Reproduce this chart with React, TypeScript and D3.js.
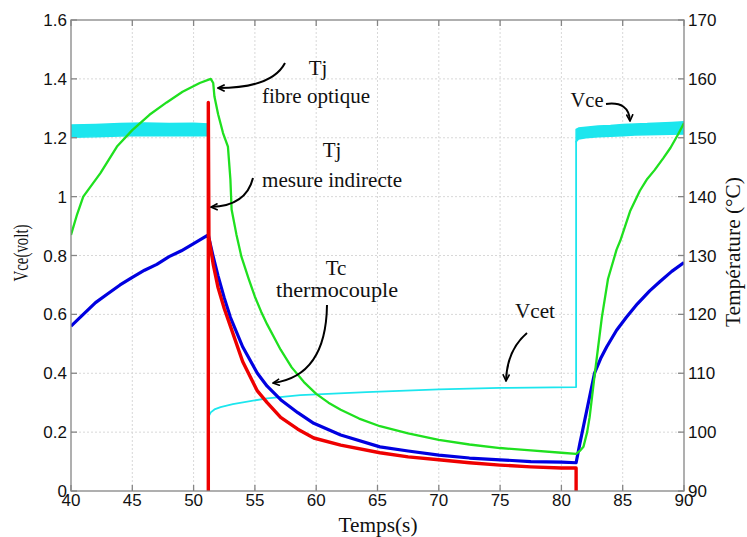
import React from "react";
import * as d3 from "d3";

// ---------- data ----------
const timeTicks = [40, 45, 50, 55, 60, 65, 70, 75, 80, 85, 90];
const vceTicks = [0, 0.2, 0.4, 0.6, 0.8, 1, 1.2, 1.4, 1.6];
const tempTicks = [90, 100, 110, 120, 130, 140, 150, 160, 170];

// Tj fibre optique (°C)
const greenT = [40, 40.5, 41, 42.4, 43.75, 45, 46.4, 47.8, 49.1, 50.5, 51.4, 51.6, 51.7, 52, 52.4, 52.8, 53, 53.1, 53.5, 53.9, 54.5, 55, 55.5, 56, 57.1, 58, 59, 60, 61, 62, 63.5, 65.2, 67.5, 70, 72.5, 75, 77.5, 80, 81.2, 81.5, 81.8, 82.1, 82.3, 82.5, 82.7, 83, 83.3, 83.8, 84.5, 84.8, 85.6, 86.4, 87, 87.6, 88.3, 88.9, 89.5, 90];
const greenV = [133.5, 137, 140, 144, 148.5, 151.3, 153.9, 156, 157.8, 159.3, 160, 159.3, 157, 154, 150.8, 148.5, 143, 137.8, 133.5, 129.8, 126, 123, 120.5, 118.3, 114, 111, 108.5, 106.5, 105, 103.8, 102.3, 101, 99.8, 98.7, 97.9, 97.3, 96.9, 96.5, 96.3, 96.8, 97.5, 100, 102.5, 106, 109.5, 114.5, 119.5, 126, 131, 132.5, 137.5, 141, 143, 144.5, 146.5, 148.3, 150.5, 152.5];

// Tc thermocouple (°C)
const blueT = [40, 41, 42, 43, 44, 45, 46, 47, 48, 49, 50, 51.2, 51.3, 51.6, 52, 52.5, 53, 54, 55.2, 56, 57.1, 58.5, 59.8, 62, 65.2, 67.5, 70, 72.5, 75, 77.5, 80, 81.2, 81.5, 81.8, 82.3, 82.7, 83.2, 83.7, 84.5, 85.3, 86.2, 87.2, 88, 89, 90];
const blueV = [118, 120, 122, 123.5, 125, 126.3, 127.5, 128.5, 129.8, 130.8, 132, 133.5, 132.5, 129.8, 126.5, 122.8, 119.5, 114.5, 110, 107.8, 105.5, 103.3, 101.5, 99.5, 97.5, 96.8, 96.1, 95.6, 95.3, 95, 94.9, 94.8, 98, 101, 106, 110, 112.5, 114.5, 117.3, 119.5, 121.8, 124, 125.5, 127.3, 128.8];

// Tj mesure indirecte (°C)
const redT = [51.2, 51.2, 51.25, 51.6, 52, 52.5, 53, 54, 55.2, 56, 57.1, 58.5, 59.8, 62, 65.2, 67.5, 70, 72.5, 75, 77.5, 80, 81.2, 81.2];
const redV = [90, 156, 133, 128.5, 124.5, 121, 118, 112, 107, 105, 102.5, 100.5, 99, 97.8, 96.5, 95.8, 95.3, 94.8, 94.4, 94.1, 93.9, 93.9, 90];

// Vcet (volt), low state
const vcetT = [51.2, 51.2, 51.25, 51.4, 51.7, 52.2, 53.2, 56, 58.7, 64.1, 70, 75, 81.2, 81.2];
const vcetV = [1.21, 0.24, 0.255, 0.267, 0.277, 0.285, 0.295, 0.315, 0.326, 0.336, 0.345, 0.35, 0.353, 1.19];

// Vce (volt), on state (noisy band)
const vceOnT1 = [40, 42, 44, 46, 48, 50, 51.2];
const vceOnTop1 = [1.243, 1.245, 1.248, 1.25, 1.248, 1.249, 1.247];
const vceOnBot1 = [1.202, 1.203, 1.206, 1.208, 1.207, 1.207, 1.207];
const vceOnT2 = [81.2, 81.4, 82, 83, 84, 85, 86, 87, 88, 89, 90];
const vceOnTop2 = [1.228, 1.233, 1.236, 1.24, 1.242, 1.245, 1.247, 1.248, 1.25, 1.252, 1.254];
const vceOnBot2 = [1.186, 1.196, 1.2, 1.203, 1.205, 1.207, 1.209, 1.21, 1.211, 1.212, 1.213];

// ---------- layout ----------
const W = 747, H = 537;
const L = 71, R = 684, T = 20, B = 491;

const x = d3.scaleLinear().domain([40, 90]).range([L, R]);
const yV = d3.scaleLinear().domain([0, 1.6]).range([B, T]);
const yT = d3.scaleLinear().domain([90, 170]).range([B, T]);

const lineT = (ts: number[], vs: number[]) =>
  d3.line<number>().x((_, i) => x(ts[i])).y((_, i) => yT(vs[i]))(ts) || "";
const lineV = (ts: number[], vs: number[]) =>
  d3.line<number>().x((_, i) => x(ts[i])).y((_, i) => yV(vs[i]))(ts) || "";
const band = (ts: number[], top: number[], bot: number[]) =>
  d3.area<number>().x((_, i) => x(ts[i])).y0((_, i) => yV(bot[i])).y1((_, i) => yV(top[i]))(ts) || "";

const fmtV = (v: number) => (v === 0 ? "0" : d3.format("~g")(+v.toFixed(1)));

const CYAN = "#1ce6ee";
const GREEN = "#1fe01f";
const BLUE = "#0000e0";
const RED = "#ee0000";
const AX = "#858585";
const serif = "'Liberation Serif', 'Times New Roman', Times, serif";
const sans = "'Liberation Sans', Arial, Helvetica, sans-serif";

export default function App() {
  return (
    <svg width={W} height={H} style={{ position: "absolute", left: 0, top: 0, display: "block", background: "#fff" }}>
      <defs>
        <marker id="ah" viewBox="0 0 12 12" refX="11" refY="6" markerWidth="8" markerHeight="8" orient="auto" markerUnits="userSpaceOnUse">
          <path d="M1,1 L11,6 L1,11" fill="none" stroke="#000" strokeWidth="2.4" />
        </marker>
        <clipPath id="clip"><rect x={L} y={T} width={R - L} height={B - T} /></clipPath>
      </defs>
      <rect x={0} y={0} width={W} height={H} fill="#fff" />
      {/* grid */}
      <g stroke="#d8d8d8" strokeWidth={1} strokeDasharray="2,2">
        {timeTicks.slice(1, -1).map((t) => (
          <line key={"gx" + t} x1={x(t)} x2={x(t)} y1={T} y2={B} />
        ))}
        {vceTicks.slice(1, -1).map((v) => (
          <line key={"gy" + v} x1={L} x2={R} y1={yV(v)} y2={yV(v)} />
        ))}
      </g>
      {/* series */}
      <g clipPath="url(#clip)" fill="none" strokeLinejoin="round">
        <path d={band(vceOnT1, vceOnTop1, vceOnBot1)} fill={CYAN} stroke={CYAN} strokeWidth={1.5} />
        <path d={band(vceOnT2, vceOnTop2, vceOnBot2)} fill={CYAN} stroke={CYAN} strokeWidth={1.5} />
        <path d={lineV(vcetT, vcetV)} stroke={CYAN} strokeWidth={1.8} />
        <path d={lineT(blueT, blueV)} stroke={BLUE} strokeWidth={3.2} />
        <path d={lineT(redT, redV)} stroke={RED} strokeWidth={3.4} />
        <path d={lineT(greenT, greenV)} stroke={GREEN} strokeWidth={2.3} />
      </g>
      {/* axes box */}
      <g stroke={AX} strokeWidth={1.3} fill="none">
        <rect x={L} y={T} width={R - L} height={B - T} />
        {timeTicks.map((t) => (
          <g key={"tx" + t}>
            <line x1={x(t)} x2={x(t)} y1={B} y2={B - 6} />
            <line x1={x(t)} x2={x(t)} y1={T} y2={T + 6} />
          </g>
        ))}
        {vceTicks.map((v) => (
          <line key={"tl" + v} x1={L} x2={L + 6} y1={yV(v)} y2={yV(v)} />
        ))}
        {tempTicks.map((v) => (
          <line key={"tr" + v} x1={R} x2={R - 6} y1={yT(v)} y2={yT(v)} />
        ))}
      </g>
      {/* tick labels */}
      <g fontFamily={sans} fontSize={17} fill="#111">
        {vceTicks.map((v) => (
          <text key={"ll" + v} x={L - 4} y={yV(v)} dy="0.36em" textAnchor="end">{fmtV(v)}</text>
        ))}
        {tempTicks.map((v) => (
          <text key={"rl" + v} x={R + 4} y={yT(v)} dy="0.36em" textAnchor="start">{v}</text>
        ))}
        {timeTicks.map((t) => (
          <text key={"bl" + t} x={x(t)} y={506} textAnchor="middle">{t}</text>
        ))}
      </g>
      {/* axis titles */}
      <g fontFamily={serif} fontSize={21} fill="#111">
        <text x={378} y={532} textAnchor="middle" textLength={79} lengthAdjust="spacingAndGlyphs">Temps(s)</text>
        <text transform="translate(28,253) rotate(-90)" textAnchor="middle" textLength={57} lengthAdjust="spacingAndGlyphs">Vce(volt)</text>
        <text transform="translate(740,252) rotate(-90)" textAnchor="middle" textLength={150} lengthAdjust="spacingAndGlyphs">Température (°C)</text>
      </g>
      {/* annotations */}
      <g fontFamily={serif} fontSize={21} fill="#111" textAnchor="middle">
        <text x={318} y={75}>Tj</text>
        <text x={316} y={103} textLength={108} lengthAdjust="spacingAndGlyphs">fibre optique</text>
        <text x={332} y={157}>Tj</text>
        <text x={332} y={187} textLength={140} lengthAdjust="spacingAndGlyphs">mesure indirecte</text>
        <text x={336} y={275}>Tc</text>
        <text x={337} y={297} textLength={122} lengthAdjust="spacingAndGlyphs">thermocouple</text>
        <text x={535} y={318} textLength={40} lengthAdjust="spacingAndGlyphs">Vcet</text>
        <text x={587} y={107} textLength={33} lengthAdjust="spacingAndGlyphs">Vce</text>
      </g>
      <g fill="none" stroke="#000" strokeWidth={2}>
        <path d="M285,63 Q272,88 218,88" markerEnd="url(#ah)" />
        <path d="M253,178 Q246,206 211,207" markerEnd="url(#ah)" />
        <path d="M327,305 Q326,376 273,383" markerEnd="url(#ah)" />
        <path d="M527,333 Q507,350 506,381" markerEnd="url(#ah)" />
        <path d="M606,104 Q629,101 630,121" markerEnd="url(#ah)" />
      </g>
    </svg>
  );
}
